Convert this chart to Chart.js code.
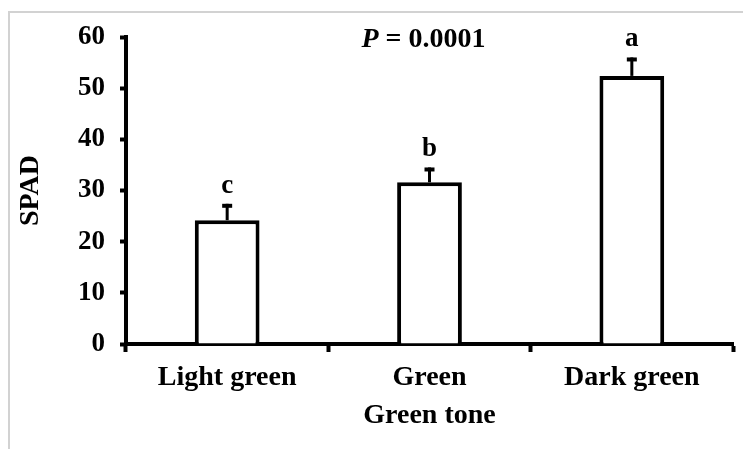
<!DOCTYPE html>
<html>
<head>
<meta charset="utf-8">
<script src="https://cdn.jsdelivr.net/npm/chart.js@4/dist/chart.umd.min.js"></script>
<style>
  html, body { margin: 0; padding: 0; background: #fff; }
  #wrap { width: 743px; height: 449px; }
</style>
</head>
<body>
<div id="wrap"><canvas id="spadChart" width="743" height="449"></canvas></div>
<script>
const categories = ['Light green', 'Green', 'Dark green'];
const spadMeans = [24.2, 31.6, 52.4];
const spadErrors = [3.2, 2.9, 3.6];
const groupLetters = ['c', 'b', 'a'];
const yMin = 0;
const yMax = 60;
const yStep = 10;
const pLabel = 'P';
const pValue = ' = 0.0001';

const serif = "'Liberation Serif', 'Times New Roman', serif";

// frame, error bars, letters and P value
const extras = {
    id: 'extras',
    beforeDraw(chart) {
        const c = chart.ctx;
        c.save();
        c.strokeStyle = '#d2d2d2';
        c.lineWidth = 2;
        c.strokeRect(9, 12, 760, 460);
        c.restore();
    },
    afterDatasetsDraw(chart) {
        const c = chart.ctx;
        const x = chart.scales.x;
        const y = chart.scales.y;
        c.save();
        c.fillStyle = '#000';
        spadMeans.forEach((v, i) => {
            const cx = x.getPixelForValue(i);
            const top = y.getPixelForValue(v);
            const capY = y.getPixelForValue(v + spadErrors[i]);
            c.fillRect(cx - 1.5, capY, 3, top - capY);
            c.fillRect(cx - 5, capY, 10, 4);
            c.font = 'bold 27px ' + serif;
            c.textAlign = 'center';
            c.textBaseline = 'alphabetic';
            c.fillText(groupLetters[i], cx, capY - 11);
        });
        const area = chart.chartArea;
        c.font = 'italic bold 28px ' + serif;
        const w1 = c.measureText(pLabel).width;
        c.font = 'bold 28px ' + serif;
        const w2 = c.measureText(pValue).width;
        let px = (area.left + area.right) / 2 - 6 - (w1 + w2) / 2;
        const py = area.top + 10;
        c.textAlign = 'left';
        c.font = 'italic bold 28px ' + serif;
        c.fillText(pLabel, px, py);
        c.font = 'bold 28px ' + serif;
        c.fillText(pValue, px + w1, py);
        c.restore();
    }
};

new Chart(document.getElementById('spadChart').getContext('2d'), {
    type: 'bar',
    data: {
        labels: categories,
        datasets: [{
            data: spadMeans,
            backgroundColor: '#ffffff',
            borderColor: '#000000',
            borderWidth: 4,
            barPercentage: 0.32,
            categoryPercentage: 1
        }]
    },
    options: {
        responsive: false,
        animation: false,
        events: [],
        layout: { padding: { top: 37, right: 10, left: 0, bottom: 0 } },
        plugins: {
            legend: { display: false },
            tooltip: { enabled: false }
        },
        scales: {
            x: {
                afterFit: s => { s.height = 105; },
                grid: {
                    display: true,
                    offset: true,
                    drawOnChartArea: false,
                    drawTicks: true,
                    tickLength: 8,
                    tickWidth: 4,
                    tickColor: '#000'
                },
                border: { display: true, color: '#000', width: 4 },
                ticks: {
                    color: '#000',
                    padding: 9,
                    font: { family: serif, size: 28, weight: 'bold' }
                },
                title: {
                    display: true,
                    text: 'Green tone',
                    color: '#000',
                    padding: { top: 0, bottom: 16 },
                    font: { family: serif, size: 28, weight: 'bold' }
                }
            },
            y: {
                min: yMin,
                max: yMax,
                afterFit: s => { s.width = 126; },
                grid: {
                    display: true,
                    drawOnChartArea: false,
                    drawTicks: true,
                    tickLength: 6,
                    tickWidth: 4,
                    tickColor: '#000'
                },
                border: { display: true, color: '#000', width: 4 },
                ticks: {
                    stepSize: yStep,
                    color: '#000',
                    padding: 15,
                    font: { family: serif, size: 27, weight: 'bold' }
                },
                title: {
                    display: true,
                    text: 'SPAD',
                    color: '#000',
                    padding: { top: 14, bottom: 0 },
                    font: { family: serif, size: 28, weight: 'bold' }
                }
            }
        }
    },
    plugins: [extras]
});
</script>
</body>
</html>
